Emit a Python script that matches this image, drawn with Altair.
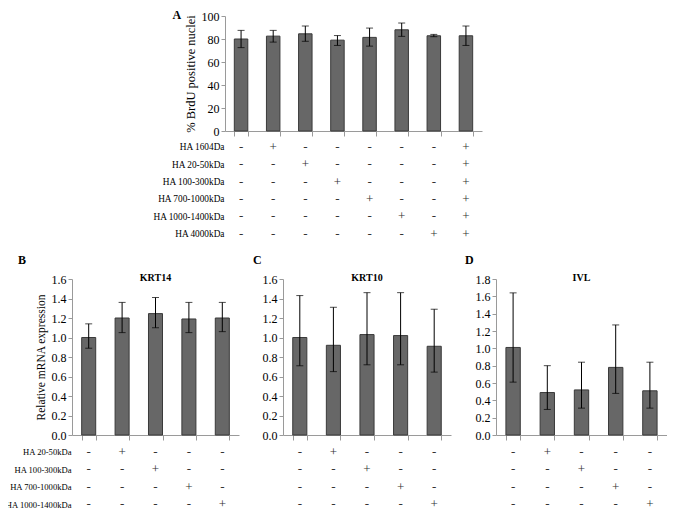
import altair as alt
import pandas as pd

FONT = "Liberation Serif"
BAR_FILL = "#676767"
BAR_STROKE = "#3a3a3a"
AXIS_GREY = "#9a9a9a"

# ---------------- Panel A data ----------------
a_groups = ["a1", "a2", "a3", "a4", "a5", "a6", "a7", "a8"]
a_mean = [80.0, 82.5, 84.5, 79.0, 81.4, 88.0, 82.8, 82.8]
a_low = [72.5, 77.3, 78.0, 74.4, 73.8, 82.3, 82.0, 74.4]
a_high = [87.5, 87.5, 91.3, 83.0, 89.5, 93.9, 84.0, 91.3]
a_yticks = [0, 20, 40, 60, 80, 100]
a_rows = ["HA 1604Da", "HA 20-50kDa", "HA 100-300kDa", "HA 700-1000kDa",
          "HA 1000-1400kDa", "HA 4000kDa"]
a_signs = [
    ["-", "+", "-", "-", "-", "-", "-", "+"],
    ["-", "-", "+", "-", "-", "-", "-", "+"],
    ["-", "-", "-", "+", "-", "-", "-", "+"],
    ["-", "-", "-", "-", "+", "-", "-", "+"],
    ["-", "-", "-", "-", "-", "+", "-", "+"],
    ["-", "-", "-", "-", "-", "-", "+", "+"],
]

# ---------------- Panels B, C, D data ----------------
g_groups = ["g1", "g2", "g3", "g4", "g5"]
g_rows = ["HA 20-50kDa", "HA 100-300kDa", "HA 700-1000kDa", "HA 1000-1400kDa"]
g_signs = [
    ["-", "+", "-", "-", "-"],
    ["-", "-", "+", "-", "-"],
    ["-", "-", "-", "+", "-"],
    ["-", "-", "-", "-", "+"],
]
bc_yticks = [0.0, 0.2, 0.4, 0.6, 0.8, 1.0, 1.2, 1.4, 1.6]
d_yticks = [0.0, 0.2, 0.4, 0.6, 0.8, 1.0, 1.2, 1.4, 1.6, 1.8]

krt14_mean = [1.00, 1.20, 1.245, 1.19, 1.20]
krt14_low = [0.89, 1.05, 1.10, 1.05, 1.06]
krt14_high = [1.14, 1.36, 1.41, 1.36, 1.36]

krt10_mean = [1.00, 0.92, 1.03, 1.02, 0.91]
krt10_low = [0.71, 0.65, 0.72, 0.72, 0.645]
krt10_high = [1.43, 1.31, 1.46, 1.46, 1.29]

ivl_mean = [1.01, 0.49, 0.52, 0.78, 0.51]
ivl_low = [0.61, 0.295, 0.31, 0.48, 0.31]
ivl_high = [1.64, 0.80, 0.84, 1.27, 0.84]


def x_scale(groups):
    return alt.Scale(domain=groups, paddingInner=0.58, paddingOuter=0.29)


def bar_chart(groups, mean, low, high, yticks, fmt, ytitle, width, height,
              gene=None, title_pad=5, title_size=11):
    df = pd.DataFrame({"g": groups, "m": mean, "lo": low, "hi": high})
    ys = alt.Scale(domain=[yticks[0], yticks[-1]], nice=False)
    yaxis = alt.Axis(values=yticks, format=fmt, title=ytitle, titlePadding=title_pad,
                     titleFontSize=title_size, grid=False)
    xaxis = alt.Axis(title=None, labels=False, tickBand="extent", tickSize=5,
                     domainColor=AXIS_GREY, tickColor=AXIS_GREY)
    x = alt.X("g:N", sort=groups, scale=x_scale(groups), axis=xaxis)
    base = alt.Chart(df)
    bars = base.mark_bar(fill=BAR_FILL, stroke=BAR_STROKE, strokeWidth=1).encode(
        x=x, y=alt.Y("m:Q", scale=ys, axis=yaxis))
    rule = base.mark_rule(color="black", strokeWidth=1).encode(
        x=x, y=alt.Y("lo:Q", scale=ys, axis=yaxis), y2="hi:Q")
    cap_lo = base.mark_tick(color="black", size=7, thickness=1).encode(
        x=x, y=alt.Y("lo:Q", scale=ys, axis=yaxis))
    cap_hi = base.mark_tick(color="black", size=7, thickness=1).encode(
        x=x, y=alt.Y("hi:Q", scale=ys, axis=yaxis))
    props = dict(width=width, height=height)
    if gene:
        props["title"] = alt.Title(gene, font=FONT, fontSize=10, fontWeight="bold",
                                   anchor="middle", offset=-10, color="black")
    return alt.layer(bars, rule, cap_lo, cap_hi).properties(**props)


def sign_table(groups, rows, signs, width, row_h, show_labels, label_size=9.3):
    recs = []
    for i, r in enumerate(rows):
        for j, g in enumerate(groups):
            recs.append({"g": g, "r": r, "s": signs[i][j]})
    df = pd.DataFrame(recs)
    if show_labels:
        yaxis = alt.Axis(title=None, domain=False, ticks=False, labelPadding=1,
                         labelFontSize=label_size, labelLimit=0)
    else:
        yaxis = None
    return alt.Chart(df).mark_text(font=FONT, fontSize=13, color="#333333").encode(
        x=alt.X("g:N", sort=groups, scale=x_scale(groups), axis=None),
        y=alt.Y("r:N", sort=rows, axis=yaxis),
        text="s:N",
    ).properties(width=width, height=row_h * len(rows))


def letter(txt, dx, offset):
    return alt.Title(txt, anchor="start", frame="bounds", dx=dx, offset=offset,
                     font=FONT, fontSize=12, fontWeight="bold", color="black")


# ---------------- Panel A ----------------
a_bars = bar_chart(a_groups, a_mean, a_low, a_high, a_yticks, "d",
                   "%  BrdU  positive  nuclei", 257, 115, title_pad=4, title_size=12.5)
a_tbl = sign_table(a_groups, a_rows, a_signs, 257, 17.4, True)
a_block = alt.vconcat(a_bars, a_tbl, spacing=0).properties(title=letter("A", 20, -12))

spacer = alt.Chart(pd.DataFrame({"v": [0]})).mark_point(opacity=0).encode(
    x=alt.X("v:Q", axis=None), y=alt.Y("v:Q", axis=None)
).properties(width=80, height=10)

top = alt.hconcat(spacer, a_block, spacing=0)

# ---------------- Panels B, C, D ----------------
b_bars = bar_chart(g_groups, krt14_mean, krt14_low, krt14_high, bc_yticks, ".1f",
                   "Relative  mRNA  expression", 167, 156, gene="KRT14",
                   title_pad=5, title_size=11.5)
b_tbl = sign_table(g_groups, g_rows, g_signs, 167, 17.5, True, label_size=8.6)
b_block = alt.vconcat(b_bars, b_tbl, spacing=2).properties(title=letter("B", 13, 6))

c_bars = bar_chart(g_groups, krt10_mean, krt10_low, krt10_high, bc_yticks, ".1f",
                   None, 168, 156, gene="KRT10")
c_tbl = sign_table(g_groups, g_rows, g_signs, 168, 17.5, False)
c_block = alt.vconcat(c_bars, c_tbl, spacing=2).properties(title=letter("C", -9, 6))

d_bars = bar_chart(g_groups, ivl_mean, ivl_low, ivl_high, d_yticks, ".1f",
                   None, 171, 156, gene="IVL")
d_tbl = sign_table(g_groups, g_rows, g_signs, 171, 17.5, False)
d_block = alt.vconcat(d_bars, d_tbl, spacing=2).properties(title=letter("D", -10, 6))

bottom = alt.hconcat(b_block, c_block, d_block, spacing=14)

chart = alt.vconcat(top, bottom, spacing=11).properties(
    padding={"left": -4, "top": 0, "right": 0, "bottom": 0}
).configure_view(stroke=None).configure_axis(
    labelFont=FONT, labelFontSize=12, labelColor="black",
    titleFont=FONT, titleFontSize=11, titleFontWeight="normal", titleColor="black",
    domainColor=AXIS_GREY, tickColor=AXIS_GREY, tickSize=4, grid=False,
).configure_title(font=FONT)

chart.save("out.html", embed_options={"renderer": "svg", "actions": False})
